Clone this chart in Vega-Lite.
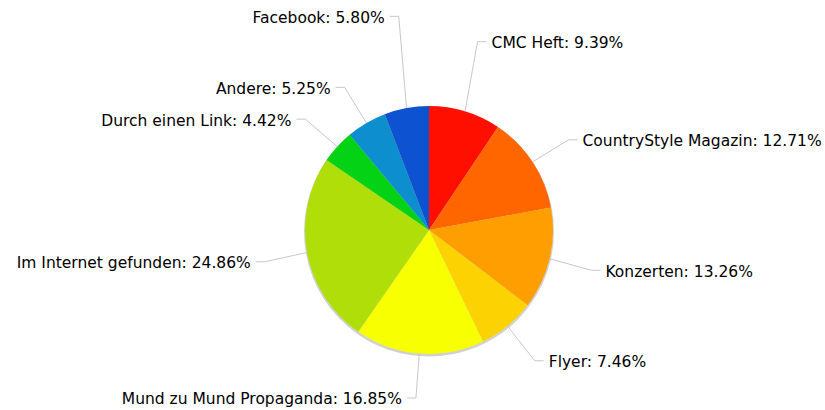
{
  "$schema": "https://vega.github.io/schema/vega-lite/v6.json",
  "width": 825,
  "height": 410,
  "padding": 0,
  "autosize": {"type": "none"},
  "background": "#ffffff",
  "config": {"view": {"stroke": null}},
  "data": {"values": [
    {"cat": "CMC Heft", "pct": 9.39},
    {"cat": "CountryStyle Magazin", "pct": 12.71},
    {"cat": "Konzerten", "pct": 13.26},
    {"cat": "Flyer", "pct": 7.46},
    {"cat": "Mund zu Mund Propaganda", "pct": 16.85},
    {"cat": "Im Internet gefunden", "pct": 24.86},
    {"cat": "Durch einen Link", "pct": 4.42},
    {"cat": "Andere", "pct": 5.25},
    {"cat": "Facebook", "pct": 5.80}
  ]},
  "transform": [
    {"window": [{"op": "row_number", "as": "i"}]},
    {"joinaggregate": [{"op": "sum", "field": "pct", "as": "tot"}]},
    {"window": [{"op": "sum", "field": "pct", "as": "cum"}], "sort": [{"field": "i"}], "frame": [null, 0]},
    {"calculate": "(datum.cum - datum.pct) / datum.tot * 2 * PI", "as": "a0"},
    {"calculate": "datum.cum / datum.tot * 2 * PI", "as": "a1"},
    {"calculate": "(datum.a0 + datum.a1) / 2", "as": "mid"},
    {"calculate": "124 * sin(datum.mid)", "as": "ex"},
    {"calculate": "124 * cos(datum.mid)", "as": "ey"},
    {"calculate": "167 * sin(datum.mid)", "as": "bx"},
    {"calculate": "167 * cos(datum.mid) + 784 * max(0, cos(datum.mid) - 0.9185) - 1.5", "as": "by"},
    {"calculate": "sin(datum.mid) >= 0 ? 1 : -1", "as": "side"},
    {"calculate": "datum.bx + datum.side * 9", "as": "hx"},
    {"calculate": "datum.bx + datum.side * 14", "as": "tx"},
    {"calculate": "datum.cat + ': ' + format(datum.pct, '.2f') + '%'", "as": "label"}
  ],
  "encoding": {
    "x": {"field": "bx", "type": "quantitative", "scale": {"domain": [-429, 396], "nice": false, "zero": false}, "axis": null},
    "y": {"field": "by", "type": "quantitative", "scale": {"domain": [-180, 230], "nice": false, "zero": false}, "axis": null}
  },
  "layer": [
    {
      "mark": {"type": "arc", "radius": 125, "color": "#000000", "opacity": 0.18},
      "encoding": {
        "x": {"datum": 0, "type": "quantitative"},
        "y": {"datum": -1.5, "type": "quantitative"},
        "theta": {"field": "a0", "type": "quantitative", "scale": null},
        "theta2": {"field": "a1"}
      }
    },
    {
      "mark": {"type": "arc", "radius": 124},
      "encoding": {
        "x": {"datum": 0, "type": "quantitative"},
        "y": {"datum": 0, "type": "quantitative"},
        "theta": {"field": "a0", "type": "quantitative", "scale": null},
        "theta2": {"field": "a1"},
        "color": {"field": "cat", "type": "nominal", "legend": null,
          "scale": {"domain": ["CMC Heft", "CountryStyle Magazin", "Konzerten", "Flyer", "Mund zu Mund Propaganda", "Im Internet gefunden", "Durch einen Link", "Andere", "Facebook"],
                    "range": ["#FF0F00", "#FF6600", "#FF9E01", "#FCD202", "#F8FF01", "#B0DE09", "#04D215", "#0D8ECF", "#0D52D1"]}}
      }
    },
    {
      "mark": {"type": "rule", "color": "#c8c8c8", "strokeWidth": 1},
      "encoding": {
        "x": {"field": "ex", "type": "quantitative"},
        "y": {"field": "ey", "type": "quantitative"},
        "x2": {"field": "bx"},
        "y2": {"field": "by"}
      }
    },
    {
      "mark": {"type": "rule", "color": "#c8c8c8", "strokeWidth": 1},
      "encoding": {
        "x": {"field": "bx", "type": "quantitative"},
        "x2": {"field": "hx"},
        "y": {"field": "by", "type": "quantitative"}
      }
    },
    {
      "transform": [{"filter": "datum.side > 0"}],
      "mark": {"type": "text", "align": "left", "baseline": "middle", "dy": 1.5, "font": "DejaVu Sans", "fontSize": 15.5, "color": "#000000"},
      "encoding": {
        "x": {"field": "tx", "type": "quantitative"},
        "y": {"field": "by", "type": "quantitative"},
        "text": {"field": "label"}
      }
    },
    {
      "transform": [{"filter": "datum.side < 0"}],
      "mark": {"type": "text", "align": "right", "baseline": "middle", "dy": 1.5, "font": "DejaVu Sans", "fontSize": 15.5, "color": "#000000"},
      "encoding": {
        "x": {"field": "tx", "type": "quantitative"},
        "y": {"field": "by", "type": "quantitative"},
        "text": {"field": "label"}
      }
    }
  ]
}
